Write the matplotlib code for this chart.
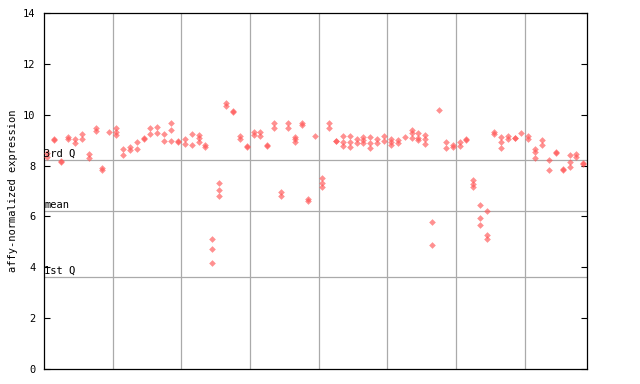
import numpy as np
import matplotlib
matplotlib.use("Agg")
import matplotlib.pyplot as plt

nan = np.nan

# replicate values per sample (79 samples, up to 3 replicates each)
rep_a = [8.50, 9.05, 8.18, 9.13, 9.03, 9.23, 8.44, 9.46, 7.89, 9.33,
         9.46, 8.64, 8.72, 8.91, 9.10, 9.46, 9.53, 9.23, 9.69, 8.97,
         9.03, 9.23, 9.20, 8.81, 5.10, 7.30, 10.45, 10.16, 9.16, 8.77,
         9.33, 9.33, 8.81, 9.69, 6.95, 9.69, 9.13, 9.69, 6.70, 9.16,
         7.53, 9.66, 8.97, 9.16, 9.16, 9.03, 9.13, 9.13, 9.03, 9.16,
         9.03, 9.00, 9.13, 9.40, 9.30, 9.20, 5.77, 10.18, 8.94, 8.81,
         8.94, 9.03, 7.43, 6.45, 6.21, 9.33, 9.13, 9.16, 9.10, 9.30,
         9.16, 8.64, 9.00, 8.22, 8.55, 7.88, 8.40, 8.45, 8.10]
rep_b = [8.35, 9.00, 8.15, 9.03, 8.87, 9.03, 8.28, 9.37, 7.83, nan,
         9.33, 8.42, 8.61, 8.64, 9.03, 9.23, 9.27, 8.97, 9.42, 8.93,
         8.85, 8.83, 9.07, 8.72, 4.74, 7.03, 10.34, 10.09, 9.03, 8.72,
         9.20, 9.16, 8.78, 9.49, 6.82, 9.49, 9.03, 9.59, 6.62, nan,
         7.30, 9.46, 8.95, 8.94, 8.94, 8.87, 9.00, 8.90, 8.87, 8.97,
         8.94, 8.90, nan, 9.27, 9.10, 9.03, 4.86, nan, 8.71, 8.72,
         8.77, 9.00, 7.28, 5.93, 5.27, 9.23, 8.94, 9.03, 9.07, nan,
         9.03, 8.55, 8.81, 7.83, 8.48, 7.83, 8.15, 8.35, 8.05]
rep_c = [nan, nan, nan, nan, nan, nan, nan, nan, nan, nan,
         9.20, nan, nan, nan, nan, nan, nan, nan, 8.97, nan,
         nan, nan, 8.94, nan, 4.16, 6.79, nan, nan, nan, nan,
         nan, nan, nan, nan, nan, nan, 8.91, nan, nan, nan,
         7.14, nan, nan, 8.77, 8.75, nan, 8.87, 8.71, nan, nan,
         8.81, nan, nan, 9.07, 8.99, 8.84, nan, nan, nan, nan,
         nan, nan, 7.14, 5.65, 5.10, nan, 8.71, nan, nan, nan,
         nan, 8.28, nan, nan, nan, nan, 7.96, nan, nan]

q3_value = 8.22
mean_value = 6.21
q1_value = 3.62
y_ticks = [0, 2, 4, 6, 8, 10, 12, 14]

n = len(rep_a)
xs = np.arange(n) + 0.5

fig = plt.figure(figsize=(6.4, 3.84), dpi=100)
ax = fig.add_axes([0.06875, 0.039, 0.848, 0.927])

for reps in (rep_a, rep_b, rep_c):
    ax.plot(xs, reps, linestyle="none", marker="D", markersize=3.4,
            color="#ff5555", alpha=0.65, markeredgewidth=0, zorder=3)

for xv in range(10, n, 10):
    ax.axvline(xv, color="#aaaaaa", linewidth=0.9, zorder=1)
for yv in (q3_value, mean_value, q1_value):
    ax.axhline(yv, color="#aaaaaa", linewidth=0.9, zorder=1)

mono = "DejaVu Sans Mono"
ax.text(0.05, q3_value + 0.05, "3rd Q", fontsize=7.5, family=mono, va="bottom", ha="left")
ax.text(0.05, mean_value + 0.05, "mean", fontsize=7.5, family=mono, va="bottom", ha="left")
ax.text(0.05, q1_value + 0.05, "1st Q", fontsize=7.5, family=mono, va="bottom", ha="left")

ax.set_xlim(0, n)
ax.set_ylim(0, 14)
ax.set_xticks([])
ax.set_yticks(y_ticks)
ax.set_yticklabels([str(t) for t in y_ticks], family=mono, fontsize=7.5)
ax.tick_params(axis="y", direction="in", length=4, width=0.8, right=True, pad=6)
ax.set_ylabel("affy-normalized expression", family=mono, fontsize=7.5, labelpad=4)
for sp in ax.spines.values():
    sp.set_linewidth(0.9)

fig.savefig("out.png", dpi=100)
